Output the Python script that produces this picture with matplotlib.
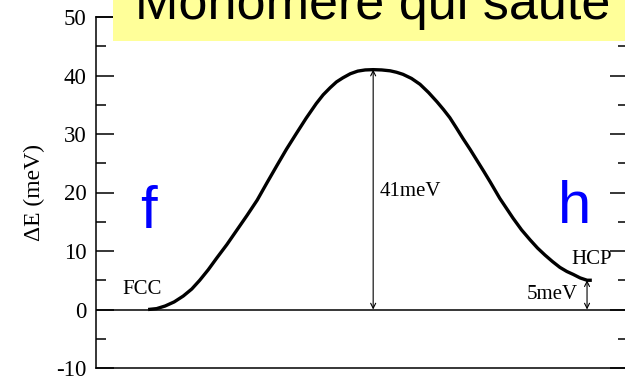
# hop_barrier.py
# --------------
# Energy profile of a monomer hopping from an FCC site to an HCP site,
# with the barrier and the site energy difference marked by arrows.

import numpy as np
import matplotlib.pyplot as plt

# Reaction coordinate (0 → 1) and energy along the path (meV)
path_coord = [0.098, 0.114, 0.130, 0.147, 0.164, 0.180, 0.195, 0.211,
              0.227, 0.246, 0.265, 0.284, 0.303, 0.321, 0.340, 0.358,
              0.376, 0.395, 0.414, 0.427, 0.440, 0.452, 0.464, 0.478,
              0.492, 0.506, 0.521, 0.537, 0.553, 0.565, 0.577, 0.593,
              0.609, 0.625, 0.641, 0.653, 0.665, 0.677, 0.690, 0.703,
              0.716, 0.729, 0.741, 0.759, 0.784, 0.800, 0.816, 0.830,
              0.844, 0.858, 0.872, 0.885, 0.897, 0.910, 0.923, 0.932]
energy_mev = [0.0, 0.15, 0.6, 1.3, 2.3, 3.5, 5.0, 6.8,
              8.8, 11.1, 13.6, 16.1, 18.7, 21.6, 24.6, 27.4,
              30.0, 32.7, 35.2, 36.7, 37.9, 38.9, 39.6, 40.3,
              40.75, 40.95, 41.0, 40.95, 40.8, 40.55, 40.2, 39.5,
              38.5, 37.1, 35.5, 34.2, 32.8, 31.1, 29.2, 27.4,
              25.5, 23.6, 21.8, 19.0, 15.6, 13.6, 11.9, 10.5,
              9.3, 8.2, 7.2, 6.5, 6.0, 5.4, 5.0, 5.0]

barrier = 41      # FCC → HCP barrier (meV)
barrier_at = 0.521
delta_hcp = 5     # HCP site above FCC (meV)
hcp_at = 0.923

y_ticks = [-10, 0, 10, 20, 30, 40, 50]

serif = "Liberation Serif"
sans = "Liberation Sans"

fig = plt.figure(figsize=(6.25, 3.8), dpi=100)
ax = fig.add_axes([96 / 625, 12 / 380, 532 / 625, 351 / 380])

ax.plot(path_coord, energy_mev, color="black", lw=2.4,
        solid_capstyle="butt", solid_joinstyle="round", zorder=3)
ax.axhline(0, color="black", lw=1.1, zorder=2)

# Double arrows for the barrier and the HCP offset
arrow = dict(arrowstyle="<->", lw=0.8, color="black",
             mutation_scale=9, shrinkA=0, shrinkB=0)
ax.annotate("", xy=(barrier_at, barrier), xytext=(barrier_at, 0),
            arrowprops=arrow)
ax.annotate("", xy=(hcp_at, delta_hcp), xytext=(hcp_at, 0),
            arrowprops=arrow)

ax.text(barrier_at + 0.013, 20.1, f"{barrier}meV", family=serif,
        fontsize=15, va="center", ha="left")
ax.text(hcp_at - 0.018, 2.5, f"{delta_hcp}meV", family=serif,
        fontsize=15, va="center", ha="right")
ax.text(0.893, 8.6, "HCP", family=serif, fontsize=15,
        va="center", ha="left")
ax.text(0.049, 3.4, "FCC", family=serif, fontsize=15,
        va="center", ha="left")

ax.text(0.098, 13.9, "f", family=sans, fontsize=43, color="#0000ff",
        ha="center", va="baseline")
ax.text(0.900, 14.8, "h", family=sans, fontsize=43, color="#0000ff",
        ha="center", va="baseline")

ax.set_xlim(0, 1)
ax.set_ylim(-10, 50)
ax.set_yticks(y_ticks)
ax.set_yticks(np.arange(-5, 50, 10), minor=True)
ax.set_yticklabels([str(t) for t in y_ticks], family=serif, fontsize=16.5)
ax.set_xticks([])
ax.tick_params(axis="y", which="both", direction="in", right=True,
               width=1.1, pad=7)
ax.tick_params(axis="y", which="major", length=13)
ax.tick_params(axis="y", which="minor", length=7)
for s in ax.spines.values():
    s.set_linewidth(1.1)

ax.set_ylabel("ΔE (meV)", family=serif, fontsize=17, labelpad=8)

# Title banner across the top
fig.patches.append(plt.Rectangle((113 / 625, 1 - 41 / 380), 1 - 113 / 625,
                                 41 / 380, transform=fig.transFigure,
                                 facecolor="#ffff99", edgecolor="none",
                                 zorder=5))
fig.text(135 / 625, 1 - 19 / 380, "Monomère qui saute", family=sans,
         fontsize=37.5, color="black", ha="left", va="baseline", zorder=6)

fig.savefig("out.png", dpi=100)
